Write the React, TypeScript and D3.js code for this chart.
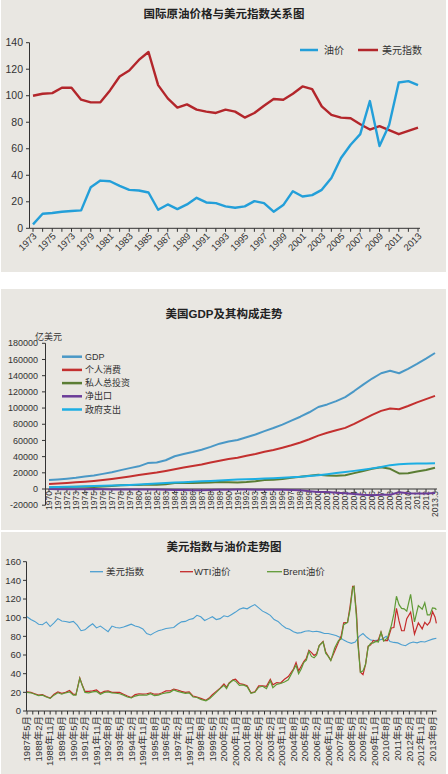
import * as d3 from "d3";

const FONT = "'Liberation Sans', 'Noto Sans CJK SC', sans-serif";
const BG = "#e9e7e2";
const INK = "#333";

// ---- chart 1: oil price vs dollar index (yearly) ----
const years1 = d3.range(1973, 2014);
const yearLabels1 = [
    "1973", "1975", "1973", "1979", "1981", "1983", "1985", "1987", "1989", "1991", "1993",
    "1995", "1997", "1999", "2001", "2003", "2005", "2007", "2009", "2011", "2013",
];
const oilPrice1 = [
    3, 11, 11.5, 12.5, 13, 13.5, 31, 36, 35.5, 32, 29, 28.5, 27, 14, 18, 14.5, 18, 23, 19.5, 19,
    16.5, 15.5, 16.5, 20.5, 19, 12.5, 17.5, 28, 24, 25, 29, 38, 53, 63, 71, 96, 62, 78, 110, 111, 108,
];
const dollarIndex1 = [
    100, 101.5, 102, 106, 106, 97, 95, 95, 104, 114.5, 119, 127, 133, 108, 98, 91, 93.5, 89.5, 88, 87,
    89.5, 88, 83.5, 87, 92.5, 97.5, 97, 101.5, 107, 105, 92, 85.5, 83.5, 83, 78.5, 74.5, 77, 74, 71, 73.5, 76,
];

// ---- chart 2: US GDP and components (亿美元) ----
const gdpCats = [...d3.range(1970, 2013).map(String), "2013.3"];
const gdp = [
    11000, 11800, 12800, 14000, 15500, 16800, 18700, 20800, 23300, 25800,
    28000, 32000, 32800, 35500, 40500, 43200, 45700, 48500, 52000, 56000,
    58800, 60500, 64000, 67300, 71500, 75300, 79500, 84500, 89300, 94800,
    101300, 104500, 108500, 113500, 121000, 129000, 136500, 143000, 146000, 143000,
    148500, 154500, 161000, 168000,
];
const consumption = [
    6300, 6800, 7400, 8200, 9000, 10000, 11200, 12500, 14000, 15500,
    17200, 18900, 20300, 22300, 24400, 26500, 28300, 30300, 32800, 35000,
    37000, 38500, 41000, 43300, 46000, 48200, 51000, 54000, 57500, 61500,
    66000, 69500, 72500, 75500, 80500, 86000, 91500, 96500, 99500, 98500,
    102500, 107000, 111000, 115000,
];
const investment = [
    1800, 2100, 2400, 2800, 2800, 2600, 3200, 3800, 4500, 5000,
    4800, 5700, 5200, 5800, 7400, 7400, 7500, 7800, 8000, 8600,
    8400, 8000, 8600, 9500, 11000, 11400, 12400, 13900, 15100, 16400,
    17700, 16600, 16300, 17100, 19600, 22300, 25000, 26800, 25000, 19200,
    19500, 21500, 23500, 26200,
];
const netExports = [
    -100, -200, -300, -200, -300, -100, -300, -500, -600, -500,
    -500, -600, -700, -1000, -1200, -1300, -1400, -1500, -1200, -1000,
    -900, -500, -500, -800, -1000, -1000, -1000, -1100, -1600, -2800,
    -3800, -3700, -4500, -5200, -6200, -7100, -7600, -7200, -7000, -3900,
    -5100, -5700, -5500, -5000,
];
const government = [
    2300, 2500, 2700, 2900, 3300, 3600, 3900, 4200, 4600, 5100,
    5700, 6300, 6800, 7300, 7900, 8500, 9000, 9500, 9900, 10500,
    11200, 11700, 12200, 12500, 12900, 13400, 13800, 14400, 15000, 16000,
    17100, 18300, 19700, 21000, 22400, 23900, 25500, 27300, 29500, 30600,
    31300, 31400, 31500, 31700,
];

// ---- chart 3: dollar index vs WTI / Brent (monthly axis) ----
const usdStart = "1987-05"; // quarterly readings from here
const usdIndex = [
    101, 98, 96, 93, 92.5, 95.5, 90.5, 94.5, 99, 96.5, 96, 95, 96, 92, 86, 87, 90.5, 93.5, 89, 91,
    88, 85, 91, 89.5, 89, 90, 91.5, 93, 91, 90, 88, 83, 81.5, 84, 86, 87, 88.5, 89, 89.5, 93,
    95.5, 96, 98, 99, 102.5, 101, 97, 99, 101, 98, 99, 102, 101, 103.5, 106, 109, 110.5, 109.5, 112, 114,
    110.5, 107, 105, 102.5, 98, 96, 92, 89, 87.5, 85, 83.5, 84, 85.5, 86, 85, 85.5, 84.5, 83, 83, 82,
    81, 79, 76, 74, 72.5, 74, 80, 83, 79, 76, 75.5, 76, 77, 80, 74.5, 73.5, 73, 71, 70, 72.5,
    74, 73, 74.5, 74, 75.5, 77, 78,
];
const oilDates = [
    "1987-05", "1987-08", "1987-11",
    "1988-02", "1988-05", "1988-08", "1988-11",
    "1989-02", "1989-05", "1989-08", "1989-11",
    "1990-02", "1990-05", "1990-07", "1990-10", "1990-12",
    "1991-02", "1991-05", "1991-08", "1991-11",
    "1992-02", "1992-05", "1992-08", "1992-11",
    "1993-02", "1993-05", "1993-08", "1993-11",
    "1994-02", "1994-05", "1994-08", "1994-11",
    "1995-02", "1995-05", "1995-08", "1995-11",
    "1996-02", "1996-05", "1996-08", "1996-11",
    "1997-02", "1997-05", "1997-08", "1997-11",
    "1998-02", "1998-05", "1998-08", "1998-12",
    "1999-03", "1999-05", "1999-08", "1999-11",
    "2000-02", "2000-04", "2000-06", "2000-09", "2000-11",
    "2001-02", "2001-05", "2001-08", "2001-11",
    "2002-02", "2002-05", "2002-08", "2002-11",
    "2003-02", "2003-04", "2003-07", "2003-10",
    "2004-01", "2004-04", "2004-08", "2004-10", "2004-12",
    "2005-02", "2005-04", "2005-06", "2005-08", "2005-10", "2005-12",
    "2006-02", "2006-04", "2006-07", "2006-09", "2006-11",
    "2007-01", "2007-04", "2007-07", "2007-09", "2007-11",
    "2008-02", "2008-04", "2008-06", "2008-07", "2008-09", "2008-10", "2008-12",
    "2009-02", "2009-04", "2009-06", "2009-08", "2009-10", "2009-12",
    "2010-02", "2010-04", "2010-06", "2010-09", "2010-12",
    "2011-02", "2011-04", "2011-06", "2011-08", "2011-10", "2011-12",
    "2012-03", "2012-06", "2012-09", "2012-12",
    "2013-02", "2013-04", "2013-06", "2013-08", "2013-10", "2013-11",
];
const wti = [
    20.5, 20, 18.5,
    17, 17.5, 15.5, 13.8,
    18, 20.5, 19, 20,
    22, 18, 17.5, 35.5, 27.5,
    21, 21, 21.5, 22.5,
    19, 21, 21.5, 20,
    20, 20, 18, 16,
    14.5, 17.5, 18.5, 18,
    18.5, 19.5, 18, 18,
    19.5, 21.5, 21.5, 23.5,
    22.5, 21, 20, 20.5,
    16, 15, 13.5, 11.5,
    14.5, 17.5, 21, 24.5,
    29, 25.5, 30, 33.5, 34,
    29.5, 28.5, 27, 19.5,
    20.5, 27, 27, 26.5,
    34, 28, 30.5, 30,
    34, 37, 45, 52, 43,
    48, 53, 56.5, 65, 62.5, 59.5,
    61.5, 70, 74.5, 63.5, 59,
    54.5, 64, 74, 80, 94.5,
    95, 112.5, 133.5, 133.5, 104, 76.5, 41.5,
    39, 50, 69.5, 71, 75.5, 74.5,
    76.5, 84.5, 75.5, 75.5, 89,
    89.5, 110, 96.5, 86, 86, 99,
    106, 82.5, 94.5, 88,
    95, 92, 95.5, 106.5, 100.5, 94,
];
const brent = [
    20, 19.5, 18,
    16.5, 17, 15, 13.5,
    17, 19.5, 18, 19.5,
    20.5, 17, 17, 35, 27,
    20, 19.5, 20.5, 21,
    18, 20, 20.5, 19.5,
    19, 18.5, 17, 15,
    14, 16, 17, 17,
    17, 18.5, 16.5, 17,
    18.5, 19.5, 20, 22.5,
    21, 20, 19, 19.5,
    15, 14.5, 12.5, 11,
    13.5, 16, 20, 24,
    27.5, 24, 29.5, 33, 32,
    27.5, 28, 26, 19,
    20, 25.5, 26.5, 24,
    32.5, 25, 28.5, 29.5,
    31, 33.5, 44, 49, 40,
    45, 52, 54.5, 64, 58.5, 57,
    60, 70, 74, 62, 58.5,
    54, 67.5, 75.5, 77, 92.5,
    95, 109, 132, 133.5, 99, 72.5, 41.5,
    43, 50, 68.5, 72.5, 73, 74.5,
    74, 84.5, 75, 78, 91.5,
    104, 123, 114, 110, 109.5, 107,
    125, 95.5, 113, 109,
    116, 103, 103, 110.5, 110, 108.5,
];

const monthIndex = (s: string) => {
    const [yy, mm] = s.split("-").map(Number);
    return (yy - 1987) * 12 + (mm - 5);
};
const monthLabel = (m: number) => {
    const total = 4 + m;
    return `${1987 + Math.floor(total / 12)}年${(total % 12) + 1}月`;
};

function OilDollarChart() {
    const x = d3.scalePoint<number>().domain(years1).range([33, 418]);
    const y = d3.scaleLinear().domain([0, 140]).range([228.3, 42.7]);
    const line = d3
        .line<number>()
        .x((_, i) => x(years1[i]) as number)
        .y((d) => y(d));
    return (
        <g>
            <rect x={1} y={0} width={445} height={272} fill={BG} />
            <text x={224} y={18} textAnchor="middle" fontSize={11.5} fontWeight="bold" fill="#222">
                国际原油价格与美元指数关系图
            </text>
            {y.ticks(7).map((t) => (
                <g key={t}>
                    <line x1={26} x2={29.5} y1={y(t)} y2={y(t)} stroke={INK} />
                    <text x={23} y={y(t)} dy="0.35em" textAnchor="end" fontSize={10.5} fill={INK}>
                        {t}
                    </text>
                </g>
            ))}
            <line x1={29.5} x2={29.5} y1={y(140)} y2={y(0)} stroke={INK} />
            <line x1={29.5} x2={420} y1={y(0)} y2={y(0)} stroke={INK} />
            {years1.map((yr) => (
                <line key={yr} x1={x(yr)} x2={x(yr)} y1={y(0)} y2={y(0) + 3.5} stroke={INK} />
            ))}
            {yearLabels1.map((lab, j) => {
                const px = x(years1[j * 2]) as number;
                return (
                    <text
                        key={j}
                        transform={`translate(${px + 2},${y(0) + 6}) rotate(-45)`}
                        textAnchor="end"
                        dy="0.35em"
                        fontSize={9.5}
                        fill={INK}
                    >
                        {lab}
                    </text>
                );
            })}
            <path d={line(dollarIndex1) as string} fill="none" stroke="#b3262b" strokeWidth={2.4} strokeLinejoin="round" />
            <path d={line(oilPrice1) as string} fill="none" stroke="#239fd9" strokeWidth={2.4} strokeLinejoin="round" />
            <line x1={300} x2={318} y1={50} y2={50} stroke="#239fd9" strokeWidth={2.5} />
            <text x={324} y={50} dy="0.35em" fontSize={10} fill={INK}>油价</text>
            <line x1={358} x2={378} y1={50} y2={50} stroke="#b3262b" strokeWidth={2.5} />
            <text x={382} y={50} dy="0.35em" fontSize={10} fill={INK}>美元指数</text>
        </g>
    );
}

const gdpSeries = [
    { name: "GDP", values: gdp, color: "#4a98c6" },
    { name: "个人消费", values: consumption, color: "#c3302f" },
    { name: "私人总投资", values: investment, color: "#5b7d34" },
    { name: "净出口", values: netExports, color: "#6b3c98" },
    { name: "政府支出", values: government, color: "#1daee3" },
];

function GdpChart() {
    const x = d3.scalePoint<string>().domain(gdpCats).range([49, 435]);
    const y = d3.scaleLinear().domain([-20000, 180000]).range([505.2, 343.3]);
    const line = d3
        .line<number>()
        .x((_, i) => x(gdpCats[i]) as number)
        .y((d) => y(d));
    return (
        <g>
            <rect x={1} y={289} width={445} height={241} fill={BG} />
            <text x={224} y={318} textAnchor="middle" fontSize={11.5} fontWeight="bold" fill="#222">
                美国GDP及其构成走势
            </text>
            <text x={35} y={339.5} fontSize={9} fill={INK}>亿美元</text>
            {y.ticks(10).map((t) => (
                <g key={t}>
                    <line x1={42} x2={45.5} y1={y(t)} y2={y(t)} stroke={INK} />
                    <text x={38} y={y(t)} dy="0.35em" textAnchor="end" fontSize={9} fill={INK}>
                        {t}
                    </text>
                </g>
            ))}
            <line x1={45.5} x2={45.5} y1={y(180000)} y2={y(-20000)} stroke={INK} />
            <line x1={45.5} x2={437} y1={y(0)} y2={y(0)} stroke={INK} />
            {gdpCats.map((c) => {
                const px = x(c) as number;
                return (
                    <g key={c}>
                        <line x1={px} x2={px} y1={y(0)} y2={y(0) + 3} stroke={INK} />
                        <text
                            transform={`translate(${px + 3},${y(0) + 2}) rotate(-90)`}
                            textAnchor="end"
                            fontSize={8.5}
                            fill={INK}
                        >
                            {c}
                        </text>
                    </g>
                );
            })}
            {gdpSeries.map((s) => (
                <path key={s.name} d={line(s.values) as string} fill="none" stroke={s.color} strokeWidth={2} strokeLinejoin="round" />
            ))}
            {gdpSeries.map((s, i) => (
                <g key={s.name} transform={`translate(0,${356.7 + i * 13.2})`}>
                    <line x1={62} x2={82} stroke={s.color} strokeWidth={2.5} />
                    <text x={85} dy="0.35em" fontSize={9} fill={INK}>{s.name}</text>
                </g>
            ))}
        </g>
    );
}

function TrendChart() {
    const x = d3.scaleLinear().domain([0, 315]).range([27, 432.5]);
    const y = d3.scaleLinear().domain([0, 160]).range([711, 561.7]);
    const usdStartM = monthIndex(usdStart);
    const usdLine = d3
        .line<number>()
        .x((_, i) => x(usdStartM + i * 3))
        .y((d) => y(d));
    const oilLine = d3
        .line<number>()
        .x((_, i) => x(monthIndex(oilDates[i])))
        .y((d) => y(d));
    const labelMonths = d3.range(0, 316, 9);
    const tickMonths = d3.range(0, 319, 4.5);
    return (
        <g>
            <rect x={1} y={532} width={445} height={242} fill={BG} />
            <text x={224} y={550.5} textAnchor="middle" fontSize={11.5} fontWeight="bold" fill="#222">
                美元指数与油价走势图
            </text>
            {y.ticks(8).map((t) => (
                <g key={t}>
                    <line x1={23} x2={26.5} y1={y(t)} y2={y(t)} stroke={INK} />
                    <text x={21} y={y(t)} dy="0.35em" textAnchor="end" fontSize={9.5} fill={INK}>
                        {t}
                    </text>
                </g>
            ))}
            <line x1={26.5} x2={26.5} y1={y(160)} y2={y(0)} stroke={INK} />
            <line x1={26.5} x2={436.5} y1={y(0)} y2={y(0)} stroke={INK} />
            {tickMonths.map((m) => (
                <line key={m} x1={x(m)} x2={x(m)} y1={y(0)} y2={y(0) + 3.5} stroke={INK} />
            ))}
            {labelMonths.map((m) => (
                <text
                    key={m}
                    transform={`translate(${x(m) + 3.3},${y(0) + 5}) rotate(-90)`}
                    textAnchor="end"
                    fontSize={9.5}
                    fill={INK}
                >
                    {monthLabel(m)}
                </text>
            ))}
            <path d={usdLine(usdIndex) as string} fill="none" stroke="#4c9fd0" strokeWidth={1.1} />
            <path d={oilLine(wti) as string} fill="none" stroke="#c42a2a" strokeWidth={1.2} />
            <path d={oilLine(brent) as string} fill="none" stroke="#5f9a36" strokeWidth={1.2} />
            <line x1={90} x2={103} y1={571.7} y2={571.7} stroke="#4c9fd0" strokeWidth={1.3} />
            <text x={106} y={571.7} dy="0.35em" fontSize={9.5} fill={INK}>美元指数</text>
            <line x1={180} x2={193} y1={571.7} y2={571.7} stroke="#c42a2a" strokeWidth={1.3} />
            <text x={194} y={571.7} dy="0.35em" fontSize={9.5} fill={INK}>WTI油价</text>
            <line x1={267} x2={282} y1={571.7} y2={571.7} stroke="#5f9a36" strokeWidth={1.3} />
            <text x={283} y={571.7} dy="0.35em" fontSize={9.5} fill={INK}>Brent油价</text>
        </g>
    );
}

export default function App() {
    return (
        <svg
            width={448}
            height={774}
            style={{ position: "absolute", left: 0, top: 0, background: "#fff" }}
            fontFamily={FONT}
        >
            <OilDollarChart />
            <GdpChart />
            <TrendChart />
        </svg>
    );
}
